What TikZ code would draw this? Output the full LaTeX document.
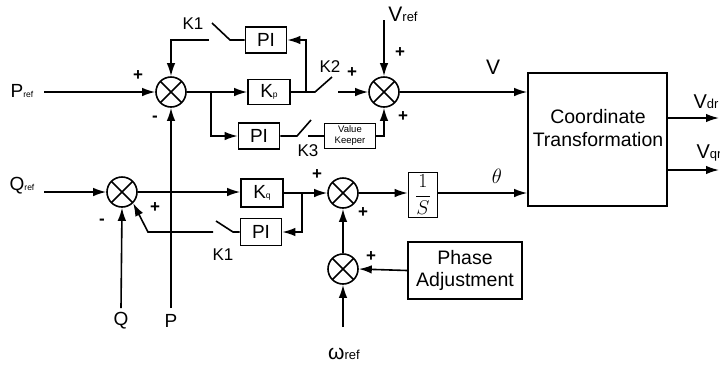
\documentclass[tikz,border=0pt]{standalone}
\usepackage{graphicx}
\usepackage{fontspec}
\setmainfont{Liberation Sans}
\usetikzlibrary{arrows.meta}
\tikzset{
  >={Latex[length=13pt,width=8.5pt]},
}
\tikzstyle{every node}=[font=\fontsize{19}{21}\selectfont]
\tikzstyle{block}=[draw,line width=1.6pt,inner sep=0pt]
\tikzstyle{sum}=[draw,circle,line width=1.6pt,minimum size=30pt,inner sep=0pt,
  path picture={\draw[line width=1.6pt] (path picture bounding box.north west)--(path picture bounding box.south east)
    (path picture bounding box.north east)--(path picture bounding box.south west);}]
\tikzstyle{sign}=[font=\bfseries\fontsize{17}{17}\selectfont,inner sep=0pt]
\tikzstyle{swlabel}=[font=\fontsize{17}{17}\selectfont,inner sep=0pt]
\newcommand{\smalltxt}[1]{{\fontsize{8.5}{8.5}\selectfont #1}}
\newcommand{\midtxt}[1]{{\fontsize{13}{13}\selectfont #1}}

\begin{document}
\begin{tikzpicture}[x=1pt,y=-1pt,line width=1.6pt]
  \useasboundingbox (0,0) rectangle (720,368);
  % summing points
  \node[sum] (s1) at (171,92) {};
  \node[sum] (s2) at (384,92) {};
  \node[sum] (s3) at (122,192) {};
  \node[sum] (s4) at (343,193) {};
  \node[sum] (s5) at (343,269) {};
  % blocks
  \node[block,minimum width=41pt,minimum height=26pt] (pi1) at (266,40) {PI};
  \node[block,minimum width=42pt,minimum height=25pt] (kp) at (269,92) {K\smalltxt{p}};
  \node[block,minimum width=41pt,minimum height=26pt] (pi2) at (259,136) {PI};
  \node[block,minimum width=51pt,minimum height=25pt,align=center,
        font=\fontsize{9.5}{11}\selectfont] (vk) at (350,136) {Value\\Keeper};
  \node[block,minimum width=42pt,minimum height=28pt] (kq) at (262,193) {K\smalltxt{q}};
  \node[block,minimum width=41pt,minimum height=27pt] (pi3) at (261,232) {PI};
  \node[block,minimum width=29pt,minimum height=45pt] (integ) at (423,195) {\scalebox{1.15}{$\displaystyle\frac{1}{S}$}};
  \node[block,minimum width=139pt,minimum height=133pt] (ct) at (597.5,139.5) {};
  \node[align=center,font=\fontsize{19.5}{23}\selectfont] (cttext) at (598,128) {Coordinate\\Transformation};
  \node[block,minimum width=114pt,minimum height=57pt,align=center,
        font=\fontsize{19.5}{22}\selectfont] (pa) at (465,270.5) {Phase\\Adjustment};
  % signals
  \node (pref) at (22,91) {P\smalltxt{ref}};
  \node (qref) at (22,186) {Q\smalltxt{ref}};
  \node[font=\fontsize{21}{21}\selectfont] (vref) at (403,14) {V\midtxt{ref}};
  \node (q) at (121,321) {Q};
  \node (p) at (171,321) {P};
  \node[font=\fontsize{21}{21}\selectfont] (wref) at (344,354) {ω\midtxt{ref}};
  \node[font=\fontsize{21}{21}\selectfont] (vlab) at (493,67) {V};
  \node[font=\fontsize{20}{20}\selectfont] (vdr) at (706,102) {V\midtxt{dr}};
  \node[font=\fontsize{20}{20}\selectfont] (vqr) at (709,153) {V\midtxt{qr}};
  \node (theta) at (497,176) {\scalebox{1.2}{$\theta$}};
  % switch labels
  \node[swlabel] (k1top) at (193,24) {K1};
  \node[swlabel] (k2) at (330,67) {K2};
  \node[swlabel] (k3) at (308,151) {K3};
  \node[swlabel] (k1bot) at (223,255) {K1};
  % signs
  \node[sign] (sg1) at (138,76) {+};
  \node[sign] (sg2) at (155,119) {-};
  \node[sign] (sg3) at (352,73) {+};
  \node[sign] (sg4) at (400,53) {+};
  \node[sign] (sg5) at (403,117) {+};
  \node[sign] (sg6) at (155,208) {+};
  \node[sign] (sg7) at (102,222) {-};
  \node[sign] (sg8) at (317,175) {+};
  \node[sign] (sg9) at (363,213) {+};
  \node[sign] (sg10) at (371,257) {+};
  % branch points and switch contacts
  \coordinate (b1) at (211,92);
  \coordinate (b2) at (306,92);
  \coordinate (b3) at (302,193);
  \coordinate (k1a) at (230,40);
  \coordinate (k1b) at (212,23);
  \coordinate (k1c) at (209,40);
  \coordinate (k2a) at (315,92);
  \coordinate (k2b) at (332,77);
  \coordinate (k2c) at (338,92);
  \coordinate (k3a) at (297,136);
  \coordinate (k3b) at (311,120);
  \coordinate (k3c) at (308,136);
  \coordinate (k1e) at (233,232);
  \coordinate (k1f) at (216,221);
  \coordinate (k1g) at (213,232);
  \coordinate (k1h) at (148,232);
  \coordinate (pstart) at (44,92);
  \coordinate (qstart) at (44,192);
  \coordinate (vin) at (384,20);
  \coordinate (win) at (343,327);
  \coordinate (pin) at (171,308);
  \coordinate (qin) at (121,308);
  \coordinate (vdrend) at (719,118);
  \coordinate (vqrend) at (719,170);
  % upper loop
  \draw[->] (pstart) -- (s1.west);
  \draw[->] (s1.east) -- (kp.west);
  \draw[->] (b1) |- (pi2.west);
  \draw (kp.east) -- (k2a) -- (k2b);
  \draw[->] (b2) |- (pi1.east);
  \draw (pi1.west) -- (k1a) -- (k1b);
  \draw[->] (k1c) -| (s1.north);
  \draw[->] (k2c) -- (s2.west);
  \draw (pi2.east) -- (k3a) -- (k3b);
  \draw (k3c) -- (vk.west);
  \draw[->] (vk.east) -| (s2.south);
  \draw[->] (vin) -- (s2.north);
  \draw[->] (s2.east) -- (s2.east -| ct.west);
  \draw[->] (pin) -- (s1.south);
  % lower loop
  \draw[->] (qstart) -- (s3.west);
  \draw[->] (qin) -- (s3.south);
  \draw[->] (s3.east) -- (s3.east -| kq.west);
  \draw[->] (kq.east) -- (s4.west);
  \draw[->] (b3) |- (pi3.east);
  \draw (pi3.west) -- (k1e) -- (k1f);
  \draw[->] (k1g) -- (k1h) -- (s3.south east);
  \draw[->] (s4.east) -- (s4.east -| integ.west);
  \draw[->] (s4.east -| integ.east) -- (s4.east -| ct.west);
  \draw[->] (s5.north) -- (s4.south);
  \draw[->] (win) -- (s5.south);
  \draw[->] (pa.west) -- (s5.east);
  % outputs
  \draw[->] (vdrend -| ct.east) -- (vdrend);
  \draw[->] (vqrend -| ct.east) -- (vqrend);
\end{tikzpicture}
\end{document}
